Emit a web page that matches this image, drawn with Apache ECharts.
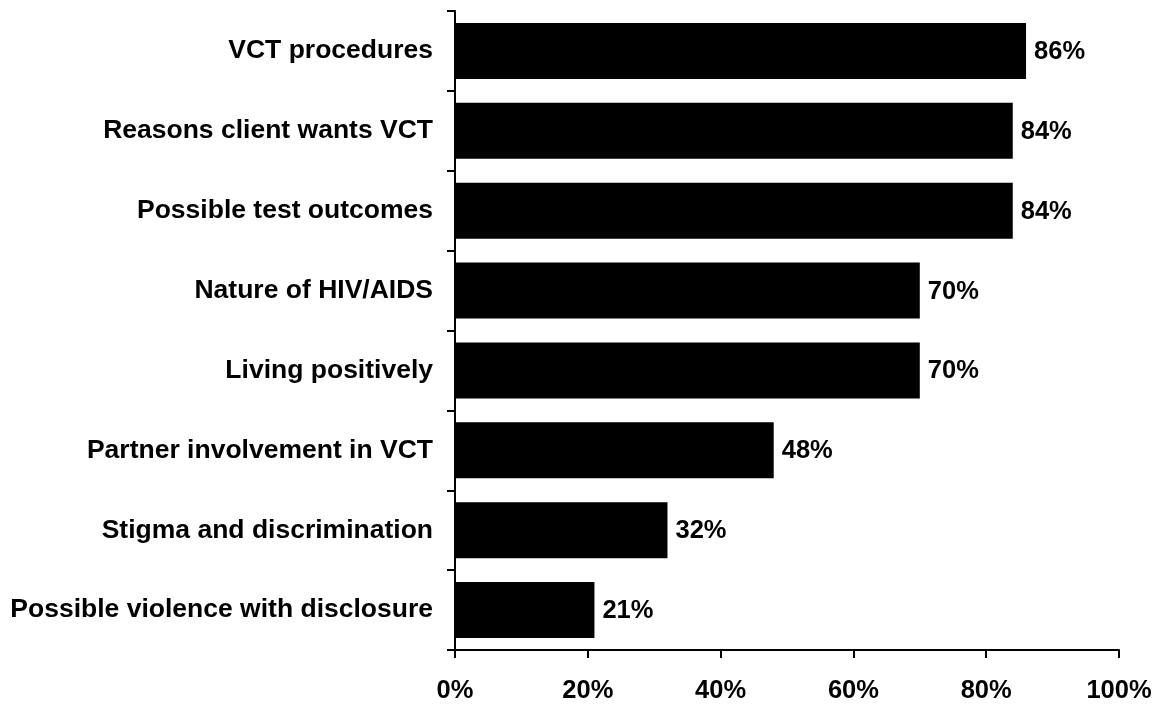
<!DOCTYPE html>
<html>
<head>
<meta charset="utf-8">
<script src="https://cdn.jsdelivr.net/npm/echarts@6/dist/echarts.min.js"></script>
<style>
  html, body { margin: 0; padding: 0; background: #fff; }
  #chart { width: 1158px; height: 704px; }
</style>
</head>
<body>
<div id="chart"></div>
<script>
// Topics covered during VCT counselling, share of sessions (%)
const topics = [
  'VCT procedures',
  'Reasons client wants VCT',
  'Possible test outcomes',
  'Nature of HIV/AIDS',
  'Living positively',
  'Partner involvement in VCT',
  'Stigma and discrimination',
  'Possible violence with disclosure'
];
const shares = [86, 84, 84, 70, 70, 48, 32, 21];
const xTicks = [0, 20, 40, 60, 80, 100];

const font = '"Liberation Sans", Arial, sans-serif';
const axisLine = { show: true, lineStyle: { color: '#000', width: 2 } };

const chart = echarts.init(document.getElementById('chart'), null, { renderer: 'canvas' });
chart.setOption({
  animation: false,
  backgroundColor: '#fff',
  grid: { left: 455, right: 39, top: 11, bottom: 54, containLabel: false },
  xAxis: {
    type: 'value',
    min: xTicks[0],
    max: xTicks[xTicks.length - 1],
    interval: xTicks[1] - xTicks[0],
    axisLine: axisLine,
    axisTick: { show: true, length: 8, lineStyle: { color: '#000', width: 2 } },
    splitLine: { show: false },
    axisLabel: {
      formatter: '{value}%',
      color: '#000',
      fontFamily: font,
      fontWeight: 'bold',
      fontSize: 25.5,
      margin: 28
    }
  },
  yAxis: {
    type: 'category',
    data: topics,
    inverse: true,
    axisLine: axisLine,
    axisTick: { show: true, length: 8, alignWithLabel: false, lineStyle: { color: '#000', width: 2 } },
    axisLabel: {
      color: '#000',
      fontFamily: font,
      fontWeight: 'bold',
      fontSize: 26.5,
      margin: 22
    }
  },
  series: [{
    type: 'bar',
    data: shares,
    barCategoryGap: '30%',
    itemStyle: { color: '#000' },
    label: {
      show: true,
      position: 'right',
      distance: 8,
      offset: [0, 1],
      formatter: '{c}%',
      color: '#000',
      fontFamily: font,
      fontWeight: 'bold',
      fontSize: 25.5
    }
  }]
});
</script>
</body>
</html>
